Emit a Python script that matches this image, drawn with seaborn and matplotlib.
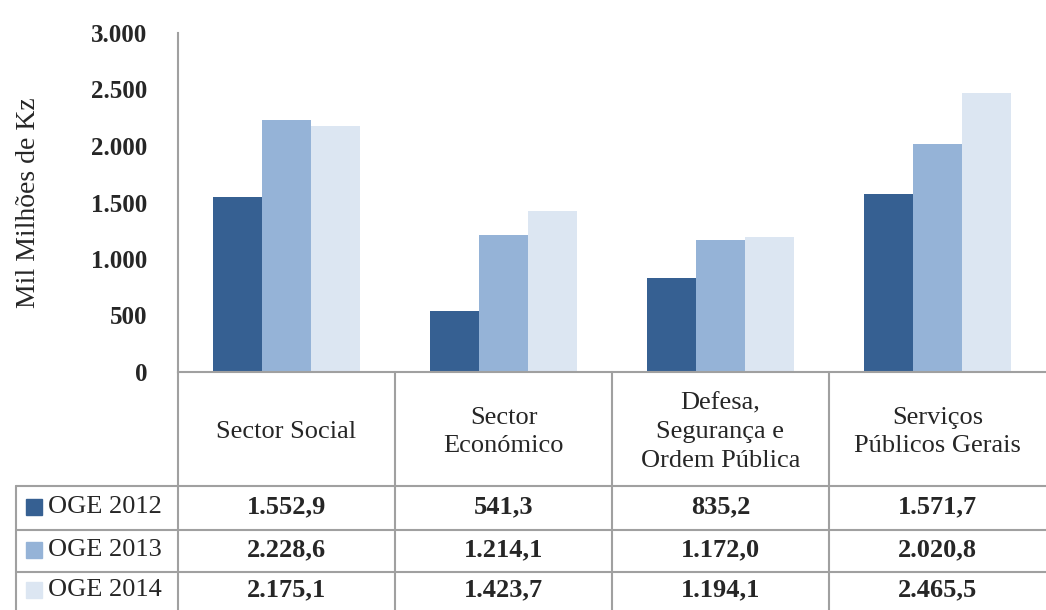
import matplotlib
matplotlib.use("Agg")
import matplotlib.pyplot as plt
import seaborn as sns
import pandas as pd

categories = ["Sector Social", "Sector\nEconómico", "Defesa,\nSegurança e\nOrdem Pública", "Serviços\nPúblicos Gerais"]
series = ["OGE 2012", "OGE 2013", "OGE 2014"]
oge_2012 = [1552.9, 541.3, 835.2, 1571.7]
oge_2013 = [2228.6, 1214.1, 1172.0, 2020.8]
oge_2014 = [2175.1, 1423.7, 1194.1, 2465.5]
yticks = [0, 500, 1000, 1500, 2000, 2500, 3000]
colors = ["#366092", "#95B3D7", "#DCE6F2"]

def fmt(v, dec):
    s = f"{v:,.{dec}f}"
    return s.replace(",", "X").replace(".", ",").replace("X", ".")

rows = []
for s, vals in zip(series, [oge_2012, oge_2013, oge_2014]):
    for c, v in zip(categories, vals):
        rows.append({"cat": c, "series": s, "val": v})
df = pd.DataFrame(rows)

sns.set_theme(style="white")
plt.rcParams["font.family"] = ["Liberation Serif", "DejaVu Serif"]

W, H = 1046, 610
fig = plt.figure(figsize=(W / 100, H / 100), dpi=100)
x0, x1, ytop, y0 = 178, 1046, 33, 372
ax = fig.add_axes([x0 / W, 1 - y0 / H, (x1 - x0) / W, (y0 - ytop) / H])
sns.barplot(data=df, x="cat", y="val", hue="series", palette=colors, order=categories,
            hue_order=series, width=0.68, saturation=1, legend=False, ax=ax, linewidth=0)
ax.set_xlim(-0.5, 3.5)
ax.set_ylim(0, 3000)
ax.set_yticks(yticks)
ax.set_yticklabels([fmt(t, 0) for t in yticks], fontsize=18, fontweight="bold")
ax.tick_params(axis="y", length=0, pad=22)
ax.set_xticks([])
ax.set_xlabel("")
ax.set_ylabel("Mil Milhões de Kz", fontsize=20, labelpad=36)
for sp in ["top", "right"]:
    ax.spines[sp].set_visible(False)
for sp in ["left", "bottom"]:
    ax.spines[sp].set_color("#A0A0A0")
    ax.spines[sp].set_linewidth(1.5)

def fx(px):
    return px / W
def fy(py):
    return 1 - py / H

lc = "#A0A0A0"
lw = 1.5
col_edges = [x0 + i * (x1 - x0) / 4 for i in range(5)]
row_lines = [486, 530, 572]
for xe in col_edges[:-1]:
    fig.add_artist(plt.Line2D([fx(xe), fx(xe)], [fy(y0), fy(H + 2)], color=lc, lw=lw))
fig.add_artist(plt.Line2D([fx(16), fx(16)], [fy(486), fy(H + 2)], color=lc, lw=lw))
for ry in row_lines:
    fig.add_artist(plt.Line2D([fx(16), fx(x1)], [fy(ry), fy(ry)], color=lc, lw=lw))

for i, c in enumerate(categories):
    cx = (col_edges[i] + col_edges[i + 1]) / 2
    fig.text(fx(cx), fy(432), c, ha="center", va="center", fontsize=19, linespacing=1.4)

row_centers = [507, 550, 590]
for r, (s, vals) in enumerate(zip(series, [oge_2012, oge_2013, oge_2014])):
    cy = row_centers[r]
    fig.add_artist(plt.Rectangle((fx(26), fy(cy + 8)), 16 / W, 16 / H, color=colors[r], transform=fig.transFigure))
    fig.text(fx(48), fy(cy), s, ha="left", va="center", fontsize=19)
    for i, v in enumerate(vals):
        cx = (col_edges[i] + col_edges[i + 1]) / 2
        fig.text(fx(cx), fy(cy), fmt(v, 1), ha="center", va="center", fontsize=19, fontweight="bold")

fig.savefig("out.png", dpi=100)
